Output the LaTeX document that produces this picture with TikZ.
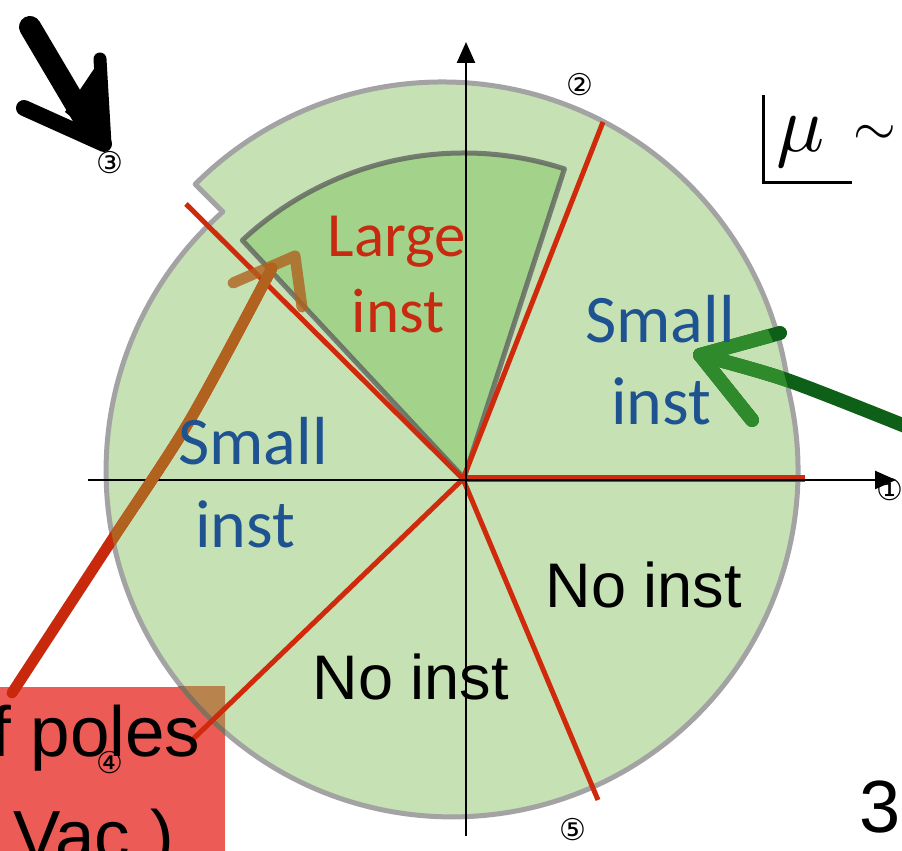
\documentclass[tikz,border=0pt]{standalone}
\usepackage{fontspec}
\setmainfont{Liberation Sans}
\newfontfamily\calfont{Carlito}
\newfontfamily\dejafont{DejaVu Sans}
\usetikzlibrary{arrows.meta,calc}
\definecolor{lgreen}{HTML}{C6E2B4}
\definecolor{dgreen}{HTML}{A3D38A}
\definecolor{outgray}{HTML}{A3A3A3}
\definecolor{wedgegray}{HTML}{5A5A5A}
\definecolor{raycol}{HTML}{D02A0C}
\definecolor{boxred}{HTML}{EC5B56}
\definecolor{boxbrown}{HTML}{B8834C}
\definecolor{boxline}{HTML}{86705A}
\definecolor{txtblue}{HTML}{1F5290}
\definecolor{txtred}{HTML}{C72A10}
\definecolor{arrred}{HTML}{C8290C}
\definecolor{arrbrown}{HTML}{B0621E}
\definecolor{grdark}{HTML}{0E5F18}
\definecolor{grlight}{HTML}{2E8A2B}
\begin{document}
\begin{tikzpicture}[x=1pt,y=1pt,
  outl/.style={draw=outgray,line width=5pt,line join=round},
  rayline/.style={draw=raycol,line width=5pt},
  axisline/.style={draw=black,line width=2.5pt,-{Triangle[length=21pt,width=18pt]}},
  blueT/.style={font=\calfont\fontsize{68}{80}\selectfont,text=txtblue,anchor=base,inner sep=0pt},
  redT/.style={font=\calfont\fontsize{63}{75}\selectfont,text=txtred,anchor=base,inner sep=0pt},
  blackT/.style={font=\fontsize{63}{75}\selectfont,text=black,anchor=base,inner sep=0pt},
  bigT/.style={font=\fontsize{71}{80}\selectfont,text=black,anchor=base west,inner sep=0pt},
  circnum/.style={font=\dejafont\fontsize{30}{30}\selectfont,inner sep=0pt},
  brush/.style={line width=11pt,line cap=round,line join=round},
  gbrush/.style={line width=14pt,line cap=round,line join=round}]
\useasboundingbox (0,0) rectangle (902,851);
\clip (0,0) rectangle (902,851);
% pie fills
\fill[lgreen] (442,420) -- ($(442,420)+(6.5:349)$) arc[start angle=6.5,end angle=135,radius=349] -- cycle;
\fill[lgreen] (452,380) circle[radius=346];
% red box with overlap
\fill[boxred] (0,0) rectangle (225,164);
\begin{scope}
  \clip (0,0) rectangle (225,164);
  \fill[boxbrown] (452,380) circle[radius=346];
\end{scope}
% pie outline
\draw[outl] ($(442,420)+(6.5:349)$) arc[start angle=6.5,end angle=135,radius=349] -- (222.8,639.2) arc[start angle=131.5,end angle=373.3,radius=346];
\begin{scope}
  \clip (0,0) rectangle (225,164);
  \draw[outl,draw=boxline] (452,380) circle[radius=346];
\end{scope}
% dark wedge
\fill[dgreen] (464,373) -- ++(72:325) arc[start angle=72,end angle=133,radius=325] -- cycle;
\draw[draw=wedgegray,draw opacity=0.75,line width=5pt,line join=round] (464,373) -- ++(72:325) arc[start angle=72,end angle=133,radius=325] -- cycle;
% red rays
\coordinate (O) at (463,372);
\coordinate (r1) at (805,372);
\coordinate (r2) at (603,729);
\coordinate (r3) at (186,647);
\coordinate (r4) at (190,109);
\coordinate (r5) at (598,51);
\draw[rayline,line width=7pt] (O) -- (r1);
\draw[rayline] (O) -- (r2);
\draw[rayline] (O) -- (r3);
\draw[rayline] (O) -- (r4);
\draw[rayline] (O) -- (r5);
% axes
\coordinate (xs) at (88,371);
\coordinate (xe) at (896,371);
\coordinate (ys) at (466,15);
\coordinate (ye) at (466,809);
\draw[axisline] (xs) -- (xe);
\draw[axisline] (ys) -- (ye);
% black hand-drawn arrow
\fill[black] (65,739) -- (100,791) -- (106,706) -- cycle;
\draw[black,line width=22pt,line cap=round] (30,824) -- (85,731);
\draw[black,line width=16pt,line cap=round] (24,743) -- (104,707);
\draw[black,line width=13pt,line cap=round] (100,792) -- (105,707);
% brown/red hand-drawn arrow
\draw[brush,draw=arrred] plot[smooth] coordinates {(12,158) (108,305) (190,431) (272,583)};
\begin{scope}
  \clip (452,380) circle[radius=346];
  \draw[brush,draw=arrbrown] plot[smooth] coordinates {(12,158) (108,305) (190,431) (272,583)};
\end{scope}
\draw[brush,draw=arrbrown,opacity=0.8] (233,568) -- (295,595) -- (302,544);
% green hand-drawn arrow
\draw[gbrush,draw=grdark] plot[smooth] coordinates {(910,423) (787,471) (700,496)};
\draw[gbrush,draw=grdark] (780,518) -- (700,496) -- (752,431);
\begin{scope}
  \clip (452,380) circle[radius=346];
  \draw[gbrush,draw=grlight] plot[smooth] coordinates {(910,423) (787,471) (700,496)};
  \draw[gbrush,draw=grlight] (780,518) -- (700,496) -- (752,431);
\end{scope}
% texts
\node[redT] (large) at (397,594) {Large};
\node[redT] (largeinst) at (398,518) {inst};
\node[blueT] (rsmall) at (660,508) {Small};
\node[blueT] (rinst) at (661,426) {inst};
\node[blueT] (lsmall) at (253,386) {Small};
\node[blueT] (linst) at (245,303) {inst};
\node[blackT] (rno) at (644,243) {No inst};
\node[blackT] (lno) at (411,151) {No inst};
\node[bigT] (poles) at (-9,94) {f poles};
\node[bigT] (vac) at (13,-10) {Vac.)};
\node[font=\fontsize{74}{80}\selectfont,anchor=base west,inner sep=0pt] (three) at (859,18) {3};
% mu ~
\draw[black,line width=3pt] (763,756) -- (763,668) -- (852,668);
\node[anchor=base west,inner sep=0pt] (mu) at (776,699) {\scalebox{8}{$\mu$}};
\node[inner sep=0pt] (sim) at (875,716) {\scalebox{5.5}{$\sim$}};
% circled numbers
\node[circnum] (n1) at (890,361) {①};
\node[circnum] (n2) at (580,766) {②};
\node[circnum] (n3) at (110,688) {③};
\node[circnum] (n4) at (110,88) {④};
\node[circnum] (n5) at (573,21) {⑤};
\end{tikzpicture}
\end{document}
